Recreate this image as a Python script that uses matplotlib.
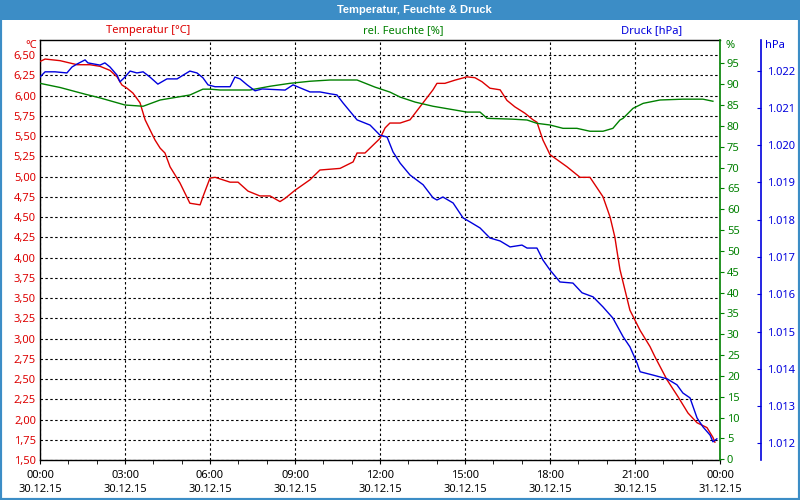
import matplotlib
matplotlib.use('Agg')
import matplotlib.pyplot as plt
from matplotlib.patches import Rectangle
from matplotlib.ticker import FuncFormatter, MultipleLocator

plt.rcParams['font.family'] = ['Noto Sans', 'DejaVu Sans']

# hours since 30.12.15 00:00
temp_h = [0.00, 0.18, 0.71, 1.31, 1.76, 2.12, 2.47, 2.72, 2.89, 3.07, 3.28, 3.53, 3.71,
          4.06, 4.24, 4.41, 4.59, 4.94, 5.29, 5.65, 5.75, 6.00, 6.18, 6.71, 6.99, 7.34,
          7.76, 8.12, 8.47, 8.65, 9.00, 9.53, 9.88, 10.59, 11.05, 11.19, 11.47, 12.00,
          12.18, 12.35, 12.71, 13.06, 13.87, 14.01, 14.29, 14.65, 15.07, 15.35, 15.60,
          15.88, 16.24, 16.48, 16.76, 17.12, 17.40, 17.54, 17.75, 18.00, 18.60, 19.06,
          19.41, 19.66, 19.87, 20.12, 20.29, 20.36, 20.47, 20.82, 21.18, 21.53, 21.71,
          22.13, 22.52, 22.87, 23.19, 23.54, 23.75, 23.82]
temp_c = [6.42, 6.45, 6.43, 6.38, 6.38, 6.36, 6.31, 6.23, 6.13, 6.09, 6.03, 5.91, 5.70,
          5.45, 5.35, 5.29, 5.12, 4.92, 4.67, 4.65, 4.75, 4.98, 4.99, 4.93, 4.93, 4.82,
          4.76, 4.76, 4.69, 4.73, 4.83, 4.96, 5.08, 5.10, 5.18, 5.29, 5.29, 5.47,
          5.60, 5.66, 5.66, 5.70, 6.07, 6.15, 6.15, 6.19, 6.23, 6.22, 6.17,
          6.09, 6.07, 5.94, 5.86, 5.78, 5.70, 5.67, 5.45, 5.27, 5.12, 4.99,
          4.99, 4.86, 4.75, 4.50, 4.25, 4.09, 3.85, 3.35, 3.10, 2.90, 2.77,
          2.49, 2.28, 2.08, 1.96, 1.90, 1.78, 1.72]

hum_h = [0.00, 0.71, 1.59, 2.12, 3.00, 3.64, 4.24, 5.29, 5.75, 6.00, 6.35, 7.41, 8.12,
         8.82, 9.53, 10.24, 11.19, 11.82, 12.35, 12.71, 13.24, 13.87, 15.07, 15.53,
         15.78, 16.69, 17.19, 17.54, 18.00, 18.46, 18.95, 19.41, 19.87, 20.22, 20.47,
         20.58, 20.93, 21.29, 21.88, 22.69, 23.40, 23.75]
hum_pct = [90.2, 89.2, 87.6, 86.7, 85.0, 84.7, 86.2, 87.4, 88.8, 88.8, 88.6, 88.6, 89.5,
           90.2, 90.7, 91.0, 91.0, 89.3, 88.1, 86.9, 85.7, 84.7, 83.3, 83.3,
           81.8, 81.6, 81.4, 80.6, 80.2, 79.4, 79.4, 78.7, 78.7, 79.4, 81.4,
           81.8, 84.2, 85.4, 86.2, 86.4, 86.4, 85.9]

pres_h = [0.00, 0.18, 0.53, 0.95, 1.13, 1.31, 1.59, 1.69, 2.12, 2.29, 2.47, 2.72, 2.82,
          3.00, 3.18, 3.42, 3.64, 3.88, 4.16, 4.48, 4.84, 5.05, 5.29, 5.54, 5.75, 5.93,
          6.18, 6.71, 6.88, 7.06, 7.31, 7.59, 7.84, 8.65, 8.93, 9.18, 9.53, 9.88, 10.24,
          10.48, 10.69, 11.19, 11.65, 12.00, 12.25, 12.46, 12.71, 13.06, 13.52, 13.87,
          14.01, 14.22, 14.58, 14.93, 15.18, 15.53, 15.88, 16.24, 16.59, 17.01, 17.19,
          17.54, 17.75, 18.00, 18.35, 18.81, 19.13, 19.52, 19.87, 20.22, 20.58, 20.82,
          21.07, 21.18, 21.64, 22.13, 22.48, 22.69, 22.94, 23.19, 23.40, 23.65, 23.75, 23.89]
pres_hpa = [1021.83, 1021.97, 1021.97, 1021.94, 1022.10, 1022.18, 1022.29, 1022.21, 1022.15,
            1022.21, 1022.10, 1021.88, 1021.70, 1021.83, 1021.99, 1021.94, 1021.97, 1021.83,
            1021.64, 1021.78, 1021.78, 1021.88, 1021.99, 1021.94, 1021.81, 1021.62, 1021.57,
            1021.57, 1021.83, 1021.78, 1021.62, 1021.46, 1021.51, 1021.48, 1021.62, 1021.54,
            1021.43, 1021.43, 1021.38, 1021.35, 1021.14, 1020.68, 1020.54, 1020.27, 1020.22,
            1019.82, 1019.52, 1019.20, 1018.94, 1018.59, 1018.53, 1018.61, 1018.45, 1018.05,
            1017.94, 1017.78, 1017.51, 1017.43, 1017.27, 1017.32, 1017.24, 1017.24, 1016.92,
            1016.65, 1016.33, 1016.30, 1016.04, 1015.93, 1015.66, 1015.36, 1014.86, 1014.59,
            1014.16, 1013.92, 1013.83, 1013.73, 1013.57, 1013.35, 1013.22, 1012.68, 1012.44,
            1012.22, 1012.04, 1012.12]

time_ticks = [0, 3, 6, 9, 12, 15, 18, 21, 24]
time_labels = ['00:00\n30.12.15', '03:00\n30.12.15', '06:00\n30.12.15', '09:00\n30.12.15',
               '12:00\n30.12.15', '15:00\n30.12.15', '18:00\n30.12.15', '21:00\n30.12.15',
               '00:00\n31.12.15']

RED = '#dd0000'
GREEN = '#008000'
BLUE = '#0000dd'
BAR = '#3c8dc6'

W, H = 800, 500
fig = plt.figure(figsize=(8, 5), dpi=100)
fig.patch.set_facecolor('white')

def fx(x):
    return x / W

def fy(y):
    return 1 - y / H

# window frame + title bar
fig.patches.append(Rectangle((0, 0), 1, 1, transform=fig.transFigure, fill=False,
                             edgecolor=BAR, linewidth=3, zorder=0))
fig.patches.append(Rectangle((0, fy(20)), 1, 20 / H, transform=fig.transFigure,
                             facecolor=BAR, edgecolor='none', zorder=1))
fig.text(fx(414), fy(10), 'Temperatur, Feuchte & Druck', color='white', weight='bold',
         family=['Liberation Sans', 'DejaVu Sans'], fontsize=8, ha='center', va='center')

ax = fig.add_axes([fx(40), fy(460), 680 / W, 420 / H])
ax.plot(temp_h, temp_c, color=RED, lw=1, zorder=5)
ax.set_xlim(0, 24)
ax.set_ylim(1.5, 1.5 + 420 / 81)
ax.yaxis.set_major_locator(MultipleLocator(0.25))
ax.yaxis.set_major_formatter(FuncFormatter(lambda v, p: f'{v:.2f}'.replace('.', ',')))
ax.set_xticks(time_ticks)
ax.set_xticklabels(time_labels, linespacing=1.45)
ax.xaxis.set_minor_locator(MultipleLocator(1))
ax.tick_params(axis='x', which='both', length=3, color='black', labelsize=8, pad=4)
ax.tick_params(axis='y', length=0, labelcolor=RED, labelsize=8, pad=3)
ax.grid(True, color='black', linestyle=(0, (2.2, 2.2)), lw=0.8)
for s in ['left', 'bottom', 'top']:
    ax.spines[s].set_color('black')
    ax.spines[s].set_linewidth(1)
ax.spines['right'].set_visible(False)

ax2 = ax.twinx()
ax2.plot(hum_h, hum_pct, color=GREEN, lw=1, zorder=4)
ax2.set_ylim(-0.2, 100.6)
ax2.set_yticks(range(0, 100, 5))
ax2.tick_params(axis='y', length=3, color=GREEN, labelcolor=GREEN, labelsize=8, pad=2)
for s in ['left', 'bottom', 'top']:
    ax2.spines[s].set_visible(False)
ax2.spines['right'].set_color(GREEN)
ax2.spines['right'].set_linewidth(1.2)

ax3 = ax.twinx()
ax3.plot(pres_h, pres_hpa, color=BLUE, lw=1, zorder=4)
ax3.set_ylim(1012 - 16.7 / 37.26, 1022 + 30.7 / 37.26)
ax3.set_yticks(range(1012, 1023))
ax3.yaxis.set_major_formatter(FuncFormatter(lambda v, p: f'{v / 1000:.3f}'))
ax3.spines['right'].set_position(('axes', (761 - 40) / 680))
ax3.spines['right'].set_color(BLUE)
ax3.spines['right'].set_linewidth(1.2)
for s in ['left', 'bottom', 'top']:
    ax3.spines[s].set_visible(False)
ax3.tick_params(axis='y', direction='in', length=3, color=BLUE, labelcolor=BLUE,
                labelsize=8, pad=4)

# headers and unit labels
fig.text(fx(148), fy(31), 'Temperatur [°C]', color=RED, fontsize=8, ha='center', va='center')
fig.text(fx(403), fy(31), 'rel. Feuchte [%]', color=GREEN, fontsize=8, ha='center', va='center')
fig.text(fx(652), fy(31), 'Druck [hPa]', color=BLUE, fontsize=8, ha='center', va='center')
fig.text(fx(37), fy(45), '°C', color=RED, fontsize=8, ha='right', va='center')
fig.text(fx(726), fy(45), '%', color=GREEN, fontsize=8, ha='left', va='center')
fig.text(fx(765), fy(45), 'hPa', color=BLUE, fontsize=8, ha='left', va='center')

fig.savefig('out.png', dpi=100)
